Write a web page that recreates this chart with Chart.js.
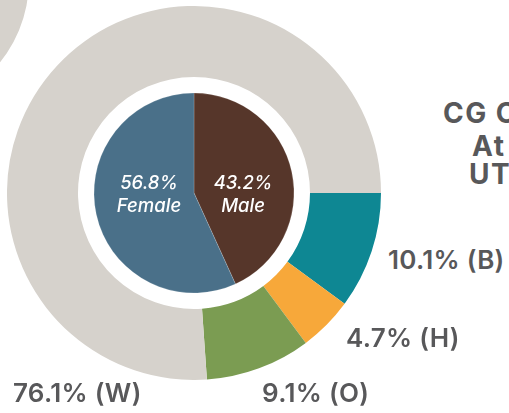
<!DOCTYPE html>
<html>
<head>
<meta charset="utf-8">
<script src="https://cdn.jsdelivr.net/npm/chart.js@4.4.1/dist/chart.umd.min.js"></script>
<style>
  html, body { margin: 0; padding: 0; background: #fff; }
  #wrap { position: relative; width: 509px; height: 413px; overflow: hidden; font-family: Inter, "Noto Sans", sans-serif; }
  .box { position: absolute; }
  .lbl { position: absolute; color: #58585a; font-size: 26px; font-weight: 600; line-height: 26px; white-space: nowrap; letter-spacing: 0.3px; }
  .inner { position: absolute; color: #fff; font-size: 18.5px; font-style: italic; font-weight: 500; line-height: 23px; text-align: center; width: 90px; }
  .title { position: absolute; color: #58585a; font-size: 28px; font-weight: 700; line-height: 28px; white-space: nowrap; letter-spacing: 1.5px; }
</style>
</head>
<body>
<div id="wrap">
  <div class="box" style="left:-235px;top:-152px;width:264px;height:264px"><canvas id="corner"></canvas></div>
  <div class="box" style="left:7px;top:6px;width:374px;height:374px"><canvas id="donut"></canvas></div>
</div>
<script>
const raceCodes = ["B", "H", "O", "W"];
const racePct = [10.1, 4.7, 9.1, 76.1];
const raceColors = ["#0e8793", "#f7a83a", "#7b9c52", "#d6d2cc"];
const genders = ["Male", "Female"];
const genderPct = [43.2, 56.8];
const genderColors = ["#56362a", "#4a7089"];
const titleLines = ["CG C", "At", "UT"];

// where the text sits (layout only)
const racePos = [[388, 247], [346, 325], [262, 380], [13, 380]];
const genderPos = [[198, 171], [104, 171]];
const titlePos = [[443, 99], [472, 132], [469, 160]];

const wrap = document.getElementById('wrap');

const addText = (cls, txt, x, y) => {
    const el = document.createElement('div');
    el.className = cls;
    el.innerHTML = txt;
    el.style.left = x + 'px';
    el.style.top = y + 'px';
    wrap.appendChild(el);
}

// leftover of the neighbouring chart in the corner
new Chart(document.getElementById('corner'), {
    type: 'pie',
    data: {
        labels: ['W'],
        datasets: [{ data: [100], backgroundColor: ['#d6d2cc'], borderWidth: 0 }]
    },
    options: {
        responsive: true,
        maintainAspectRatio: false,
        animation: false,
        plugins: { legend: { display: false }, tooltip: { enabled: false } }
    }
});

new Chart(document.getElementById('donut'), {
    type: 'doughnut',
    data: {
        labels: raceCodes,
        datasets: [{
            label: 'Race',
            data: racePct,
            backgroundColor: raceColors,
            borderWidth: 0,
            rotation: 90,
            weight: 71
        }, {
            label: 'gap',
            data: [100],
            backgroundColor: ['rgba(0,0,0,0)'],
            borderWidth: 0,
            weight: 16
        }, {
            label: 'Gender',
            data: genderPct,
            backgroundColor: genderColors,
            borderColor: 'rgba(255,255,255,0.35)',
            borderWidth: 0.5,
            rotation: 0,
            weight: 100
        }]
    },
    options: {
        responsive: true,
        maintainAspectRatio: false,
        animation: false,
        cutout: 0,
        plugins: { legend: { display: false }, tooltip: { enabled: false } }
    }
});

racePct.forEach((v, i) => addText('lbl', v + '% (' + raceCodes[i] + ')', racePos[i][0], racePos[i][1]));
genderPct.forEach((v, i) => addText('inner', v + '%<br>' + genders[i], genderPos[i][0], genderPos[i][1]));
titleLines.forEach((t, i) => addText('title', t, titlePos[i][0], titlePos[i][1]));
</script>
</body>
</html>
